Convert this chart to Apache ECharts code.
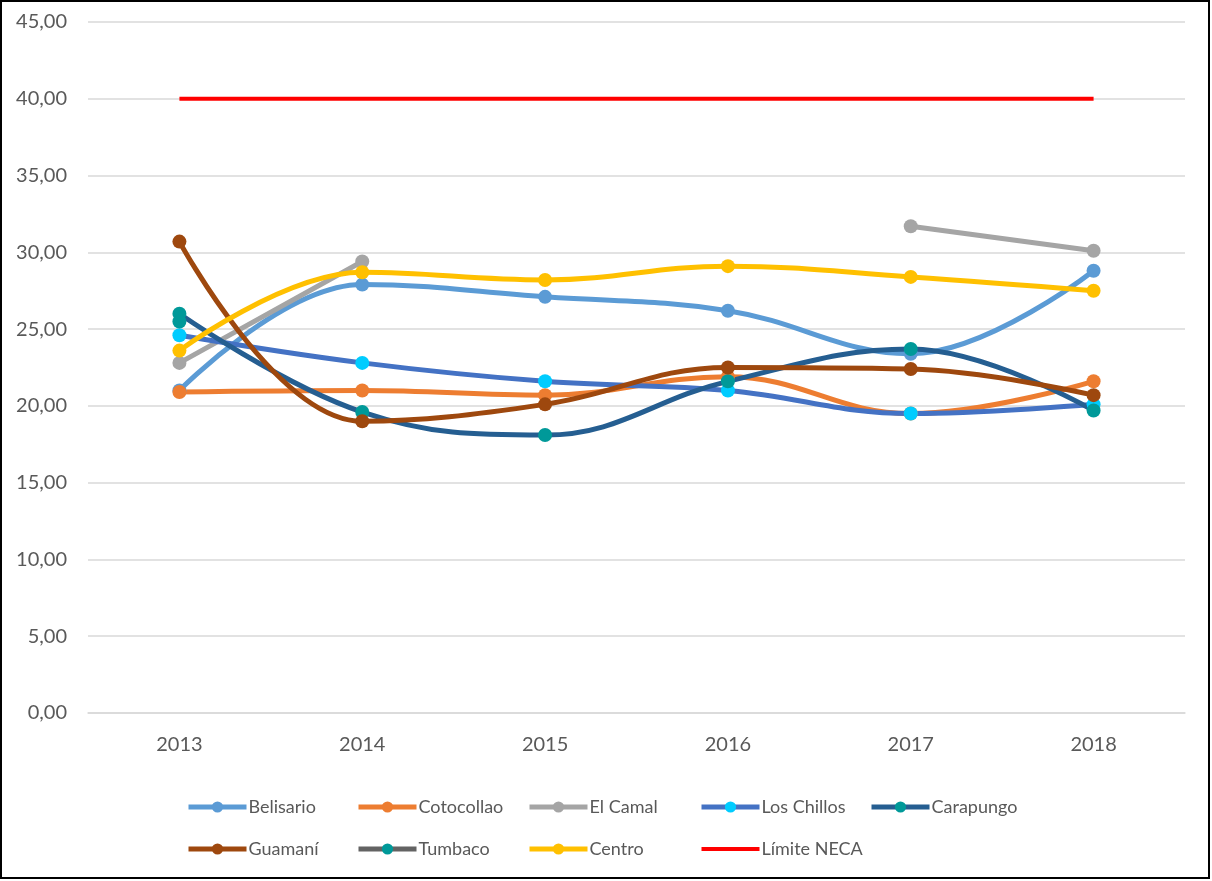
<!DOCTYPE html>
<html>
<head>
<meta charset="utf-8">
<script src="https://cdn.jsdelivr.net/npm/echarts@6/dist/echarts.min.js"></script>
<style>
  body { margin: 0; background: #fff; }
  #chart { position: absolute; left: 0; top: 0; width: 1210px; height: 879px; border: 2px solid #000; box-sizing: border-box; }
</style>
</head>
<body>
<div id="chart"></div>
<script>
// datos
var years = ['2013', '2014', '2015', '2016', '2017', '2018'];
var belisario  = [21.0, 27.9, 27.1, 26.2, 23.4, 28.8];
var cotocollao = [20.9, 21.0, 20.7, 21.9, 19.5, 21.6];
var elCamal    = [22.8, 29.4, null, null, 31.7, 30.1];
var losChillos = [24.6, 22.8, 21.6, 21.0, 19.5, 20.1];
var carapungo  = [26.0, 19.6, 18.1, 21.6, 23.7, 19.7];
var guamani    = [30.7, 19.0, 20.1, 22.5, 22.4, 20.7];
var tumbaco    = [25.5, null, null, null, null, null];
var centro     = [23.6, 28.7, 28.2, 29.1, 28.4, 27.5];
var limiteNeca = [40, 40, 40, 40, 40, 40];

var FONT = 'Lato';
var TXT = '#595959';

function serie(name, data, lineColor, markerColor) {
  return {
    name: name,
    type: 'line',
    data: data,
    smooth: 0.4,
    symbol: 'circle',
    symbolSize: 14,
    connectNulls: false,
    lineStyle: { color: lineColor, width: 5 },
    itemStyle: { color: markerColor || lineColor }
  };
}

var chart = echarts.init(document.getElementById('chart'));
var legendBase = {
  orient: 'vertical',
  top: 791,
  itemWidth: 58,
  itemHeight: 14,
  itemGap: 24,
  lineStyle: { width: 5 },
  textStyle: { color: TXT, fontSize: 18, fontFamily: FONT, padding: [0, 0, 0, -3] }
};
var option = {
  animation: false,
  textStyle: { fontFamily: FONT },
  grid: { left: 86, right: 23, top: 20, bottom: 164 },
  legend: [
    Object.assign({}, legendBase, { left: 179, data: ['Belisario', 'Guamaní'] }),
    Object.assign({}, legendBase, { left: 349, data: ['Cotocollao', 'Tumbaco'] }),
    Object.assign({}, legendBase, { left: 520, data: ['El Camal', 'Centro'] }),
    Object.assign({}, legendBase, { left: 692, data: ['Los Chillos',
      { name: 'Límite NECA', itemStyle: { opacity: 0 }, lineStyle: { width: 4, opacity: 1 } }] }),
    Object.assign({}, legendBase, { left: 862, data: ['Carapungo'] })
  ],
  xAxis: {
    type: 'category',
    data: years,
    boundaryGap: true,
    axisLine: { lineStyle: { color: '#D9D9D9', width: 1.5 } },
    axisTick: { show: false },
    axisLabel: { color: TXT, fontSize: 20, fontFamily: FONT, margin: 22 }
  },
  yAxis: {
    type: 'value',
    min: 0,
    max: 45,
    interval: 5,
    axisLine: { show: false },
    axisTick: { show: false },
    splitLine: { lineStyle: { color: '#D9D9D9', width: 1.5 } },
    axisLabel: {
      color: TXT, fontSize: 20, fontFamily: FONT, margin: 21,
      formatter: function (v) { return v.toFixed(2).replace('.', ','); }
    }
  },
  series: [
    serie('Belisario', belisario, '#5B9BD5'),
    serie('Cotocollao', cotocollao, '#ED7D31'),
    serie('El Camal', elCamal, '#A5A5A5'),
    serie('Los Chillos', losChillos, '#4472C4', '#00CCFF'),
    serie('Carapungo', carapungo, '#255E91', '#009999'),
    serie('Guamaní', guamani, '#9E480E'),
    serie('Tumbaco', tumbaco, '#636363', '#009999'),
    serie('Centro', centro, '#FFC000'),
    {
      name: 'Límite NECA',
      type: 'line',
      data: limiteNeca,
      symbol: 'none',
      lineStyle: { color: '#FF0000', width: 4 },
      itemStyle: { color: '#FF0000' }
    }
  ]
};
chart.setOption(option);
</script>
</body>
</html>
